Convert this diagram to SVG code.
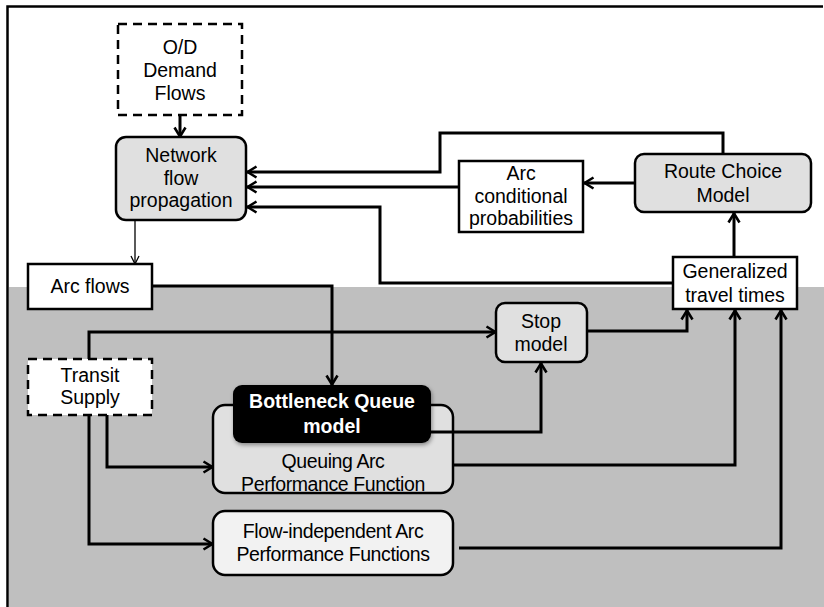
<svg xmlns="http://www.w3.org/2000/svg" width="824" height="607" viewBox="0 0 824 607">
<defs>
<style>
text{font-family:"Liberation Sans",Arial,sans-serif;font-size:19.5px;fill:#000;text-anchor:middle}
.b{stroke:#000;stroke-width:2.5}
.grey{fill:#e0e0e0}
.white{fill:#fff}
.dash{stroke-dasharray:9 6}
.c{fill:none;stroke:#000;stroke-width:3;marker-end:url(#ah)}
.thin{fill:none;stroke:#000;stroke-width:1.3;marker-end:url(#ahs)}
.tight{letter-spacing:-0.4px}
</style>
<marker id="ah" markerUnits="userSpaceOnUse" viewBox="0 0 12 14" refX="11" refY="7" markerWidth="12" markerHeight="14" orient="auto">
<path d="M1.5,1.5 L10.5,7 L1.5,12.5" fill="none" stroke="#000" stroke-width="2.6"/>
</marker>
<marker id="ahs" markerUnits="userSpaceOnUse" viewBox="0 0 10 10" refX="9" refY="5" markerWidth="10" markerHeight="10" orient="auto">
<path d="M1,1 L9,5 L1,9" fill="none" stroke="#000" stroke-width="1.3"/>
</marker>
<filter id="sh" x="-10%" y="-20%" width="120%" height="150%">
<feDropShadow dx="1" dy="2" stdDeviation="2" flood-color="#000" flood-opacity="0.4"/>
</filter>
</defs>
<rect x="0" y="0" width="824" height="607" fill="#fff"/>
<rect x="9" y="287" width="815" height="320" fill="#bfbfbf"/>
<path d="M7.5,607 V6.5 H823" fill="none" stroke="#000" stroke-width="2.5"/>

<g id="od-demand">
<rect x="118" y="24" width="124" height="91" class="white b dash"/>
<text x="180" y="54">O/D</text>
<text x="180" y="77">Demand</text>
<text x="180" y="100">Flows</text>
</g>
<g id="network-flow">
<rect x="116" y="137" width="130" height="83" rx="10" class="grey b"/>
<text x="181" y="162">Network</text>
<text x="181" y="185">flow</text>
<text x="181" y="207">propagation</text>
</g>
<g id="arc-flows">
<rect x="28" y="264" width="124" height="45" class="white b"/>
<text x="90" y="293">Arc flows</text>
</g>
<g id="arc-cond">
<rect x="459" y="161" width="124" height="71" class="white b"/>
<text x="521" y="180">Arc</text>
<text x="521" y="203">conditional</text>
<text x="521" y="225">probabilities</text>
</g>
<g id="route-choice">
<rect x="635" y="154" width="176" height="58" rx="9" class="grey b"/>
<text x="723" y="178">Route Choice</text>
<text x="723" y="202">Model</text>
</g>
<g id="gen-travel">
<rect x="673" y="257" width="124" height="52" class="white b"/>
<text x="735" y="278">Generalized</text>
<text x="735" y="302">travel times</text>
</g>
<g id="stop-model">
<rect x="496" y="303" width="91" height="59" rx="9" class="grey b"/>
<text x="541" y="328">Stop</text>
<text x="541" y="351">model</text>
</g>
<g id="transit-supply">
<rect x="28" y="359" width="124" height="56" class="white b dash"/>
<text x="90" y="382">Transit</text>
<text x="90" y="404">Supply</text>
</g>
<g id="queuing">
<rect x="213" y="405" width="240" height="88" rx="12" class="grey b"/>
<text x="333" y="468" class="tight">Queuing Arc</text>
<text x="333" y="491" class="tight">Performance Function</text>
</g>
<g id="bottleneck">
<rect x="233" y="385" width="198" height="58" rx="9" fill="#000" filter="url(#sh)"/>
<text x="332" y="408" style="fill:#fff;font-weight:bold">Bottleneck Queue</text>
<text x="332" y="433" style="fill:#fff;font-weight:bold">model</text>
</g>
<g id="flow-independent">
<rect x="213" y="511" width="240" height="64" rx="12" fill="#f2f2f2" class="b"/>
<text x="333" y="538" class="tight">Flow-independent Arc</text>
<text x="333" y="561" class="tight">Performance Functions</text>
</g>

<g id="connectors">
<path class="c" d="M180,115 V137"/>
<path class="thin" d="M135,220 V264"/>
<path class="c" d="M723,154 V133 H440 V172 H247"/>
<path class="c" d="M459,187 H247"/>
<path class="c" d="M673,283 H380 V207 H247"/>
<path class="c" d="M635,183 H584"/>
<path class="c" d="M734,257 V213"/>
<path class="c" d="M152,286 H332 V385"/>
<path class="c" d="M89,359 V332 H496"/>
<path class="c" d="M587,331 H687 V310"/>
<path class="c" d="M383,432 H541 V363"/>
<path class="c" d="M453,465 H735 V310"/>
<path class="c" d="M107,415 V467 H213"/>
<path class="c" d="M89,415 V544 H213"/>
<path class="c" d="M459,548 H781 V310"/>
</g>
</svg>
